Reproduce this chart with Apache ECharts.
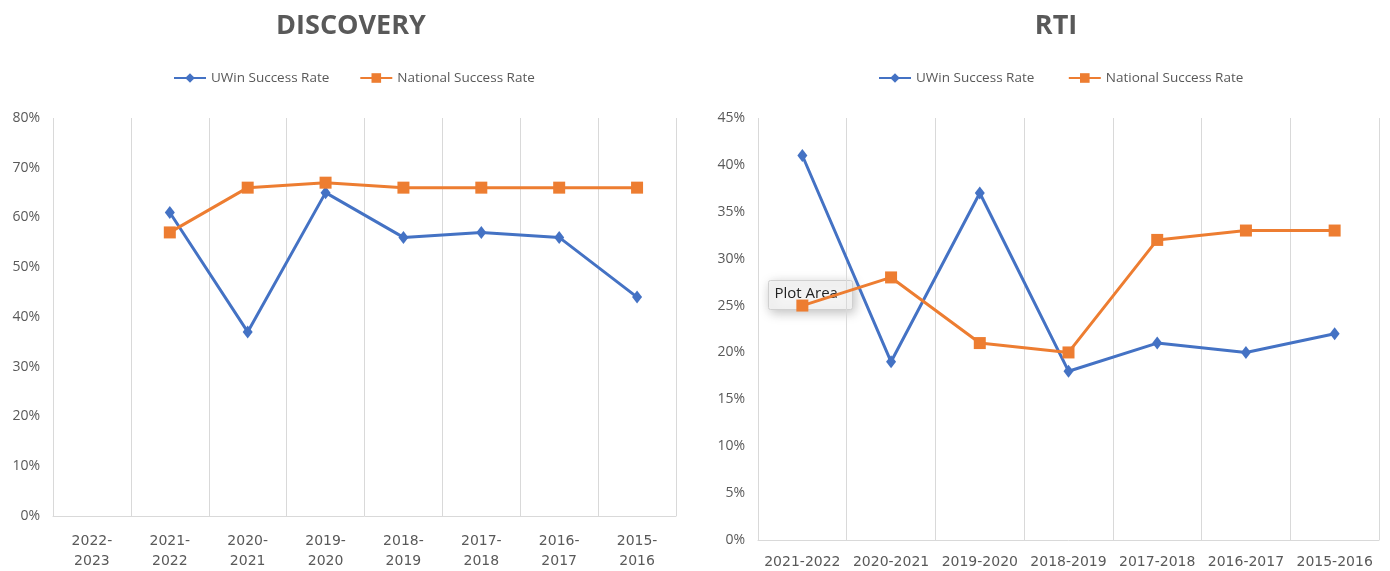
<!DOCTYPE html>
<html><head><meta charset="utf-8">
<script src="https://cdn.jsdelivr.net/npm/echarts@6/dist/echarts.min.js"></script>
<style>html,body{margin:0;padding:0;background:#fff}#c{width:1390px;height:571px}</style>
</head><body><div id="c"></div>
<script>
const discCategories = ['2022-\n2023','2021-\n2022','2020-\n2021','2019-\n2020','2018-\n2019','2017-\n2018','2016-\n2017','2015-\n2016'];
const discUWin = [null, 61, 37, 65, 56, 57, 56, 44];
const discNational = [null, 57, 66, 67, 66, 66, 66, 66];
const rtiCategories = ['2021-2022','2020-2021','2019-2020','2018-2019','2017-2018','2016-2017','2015-2016'];
const rtiUWin = [41, 19, 37, 18, 21, 20, 22];
const rtiNational = [25, 28, 21, 20, 32, 33, 33];

const blue = '#4472C4', orange = '#ED7D31', grey = '#595959';
const font = '"Open Sans", sans-serif';
const xfont = '"DejaVu Sans", sans-serif';
const chart = echarts.init(document.getElementById('c'));
function xAx(idx, data, lh, margin) {
  return {type:'category', gridIndex:idx, data:data, boundaryGap:true,
    axisLine:{lineStyle:{color:'#d9d9d9', width:1}}, axisTick:{show:false},
    splitLine:{show:true, lineStyle:{color:'#d9d9d9', width:1}},
    axisLabel:{color:grey, fontSize:14, fontFamily:xfont, margin:margin, lineHeight:lh, interval:0}};
}
function yAx(idx, max, interval) {
  return {type:'value', gridIndex:idx, min:0, max:max, interval:interval,
    axisLine:{show:false}, axisTick:{show:false}, splitLine:{show:false},
    axisLabel:{color:grey, fontSize:14, fontFamily:font, margin:13, formatter:'{value}%'}};
}
function ser(name, data, idx, isU) {
  return {name:name, type:'line', xAxisIndex:idx, yAxisIndex:idx, data:data,
    symbol: isU ? 'diamond' : 'rect', symbolSize: isU ? [10,13] : 12,
    lineStyle:{color: isU?blue:orange, width:3}, itemStyle:{color: isU?blue:orange},
    connectNulls:false, animation:false};
}
chart.setOption({
  animation:false,
  title:[
    {text:'DISCOVERY', left:346, top:8, textAlign:'center', textStyle:{color:grey, fontSize:27, fontWeight:'bold', fontFamily:font}},
    {text:'RTI', left:1051, top:8, textAlign:'center', textStyle:{color:grey, fontSize:27, fontWeight:'bold', fontFamily:font}}
  ],
  legend:[
    {data:['UWin Success Rate','National Success Rate'], left:168, top:66, itemGap:30, itemWidth:32, itemHeight:12,
     textStyle:{color:grey, fontSize:13.5, fontFamily:font}},
    {data:['UWin Success Rate ','National Success Rate '], left:873, top:66, itemGap:30, itemWidth:32, itemHeight:12,
     textStyle:{color:grey, fontSize:13.5, fontFamily:font}}
  ],
  grid:[
    {left:53, right:714, top:118, bottom:52},
    {left:758, right:11, top:118, bottom:31}
  ],
  xAxis:[xAx(0, discCategories, 20, 15), xAx(1, rtiCategories, 16, 14)],
  yAxis:[yAx(0, 80, 10), yAx(1, 45, 5)],
  series:[
    ser('UWin Success Rate', discUWin, 0, true),
    ser('National Success Rate', discNational, 0, false),
    ser('UWin Success Rate ', rtiUWin, 1, true),
    ser('National Success Rate ', rtiNational, 1, false)
  ],
  graphic:[
    {type:'group', left:768, top:280, z:100, children:[
      {type:'rect', shape:{x:0, y:0, width:84, height:29, r:2},
       style:{fill:'#f4f4f4', stroke:'#d0d0d0', lineWidth:1, shadowBlur:12, shadowColor:'rgba(0,0,0,0.25)', shadowOffsetX:2, shadowOffsetY:3}},
      {type:'text', x:6, y:6, style:{text:'Plot Area', fill:'#222', fontSize:15, fontFamily:font}}
    ]}
  ]
});
</script></body></html>
